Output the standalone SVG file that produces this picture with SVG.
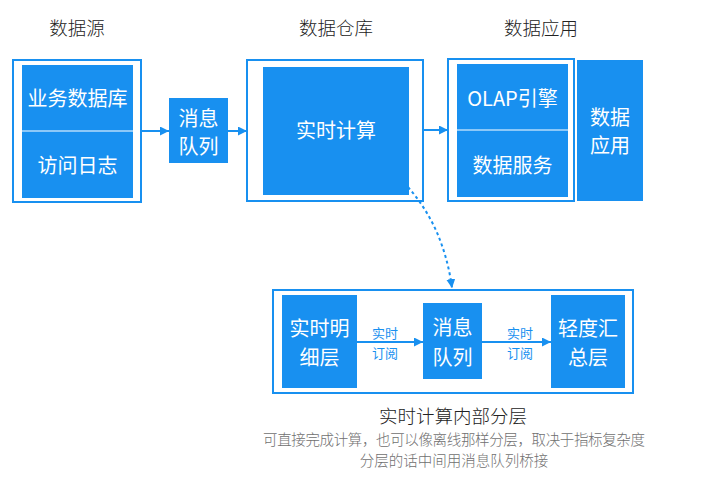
<svg xmlns="http://www.w3.org/2000/svg" width="701" height="486" viewBox="0 0 701 486">
<defs>
<style>
.frame{fill:#fff;stroke:#1890f0;stroke-width:2}
.blk{fill:#1890f0}
.div{stroke:#fff;stroke-width:1.2}
.wt{fill:#fff;font-family:"Noto Sans CJK SC","Noto Sans",sans-serif;font-size:20px;text-anchor:middle;dominant-baseline:central}
.title{fill:#222;font-family:"Noto Sans CJK SC",sans-serif;font-size:18.5px;font-weight:300;text-anchor:middle;dominant-baseline:central}
.lbl{fill:#1890f0;font-family:"Noto Sans CJK SC",sans-serif;font-size:13px;text-anchor:middle;dominant-baseline:central}
.note{fill:#707070;font-family:"Noto Sans CJK SC",sans-serif;font-size:14.5px;font-weight:300;text-anchor:middle;dominant-baseline:central}
.conn{stroke:#1890f0;stroke-width:2;fill:none}
</style>
<marker id="ah" viewBox="0 0 10 10" refX="10" refY="5" markerWidth="9" markerHeight="9" markerUnits="userSpaceOnUse" orient="auto">
<path d="M0,0 L10,5 L0,10 z" fill="#1890f0"/>
</marker>
</defs>
<rect width="701" height="486" fill="#fff"/>

<g id="titles">
<text class="title" x="77" y="27">数据源</text>
<text class="title" x="336" y="27">数据仓库</text>
<text class="title" x="541" y="27">数据应用</text>
</g>

<g id="source">
<rect class="frame" x="13" y="60" width="128" height="142"/>
<rect class="blk" x="22" y="65" width="111" height="133"/>
<line class="div" x1="22" y1="131" x2="133" y2="131"/>
<text class="wt" x="77.5" y="97">业务数据库</text>
<text class="wt" x="77.5" y="164">访问日志</text>
</g>

<g id="mq1">
<rect class="blk" x="169" y="98" width="59" height="65"/>
<text class="wt" x="198.5" y="117">消息</text>
<text class="wt" x="198.5" y="145">队列</text>
</g>

<g id="warehouse">
<rect class="frame" x="247" y="60" width="176" height="141"/>
<rect class="blk" x="263" y="67" width="146" height="128"/>
<text class="wt" x="336" y="129">实时计算</text>
</g>

<g id="apps">
<rect class="frame" x="448" y="59" width="126" height="142"/>
<rect class="blk" x="457" y="64" width="111" height="133"/>
<line class="div" x1="457" y1="130" x2="568" y2="130"/>
<text class="wt" x="512.5" y="97">OLAP引擎</text>
<text class="wt" x="512.5" y="164">数据服务</text>
</g>

<g id="dataapp">
<rect class="blk" x="577" y="60" width="66" height="141"/>
<text class="wt" x="610" y="116">数据</text>
<text class="wt" x="610" y="144">应用</text>
</g>

<g id="layers">
<rect class="frame" x="273" y="290" width="360" height="103"/>
</g>
<g id="detail">
<rect class="blk" x="282" y="295" width="75" height="93"/>
<text class="wt" x="319.5" y="327">实时明</text>
<text class="wt" x="319.5" y="356">细层</text>
</g>
<g id="mq2">
<rect class="blk" x="423" y="303" width="59" height="76"/>
<text class="wt" x="452.5" y="326">消息</text>
<text class="wt" x="452.5" y="356">队列</text>
</g>
<g id="summary">
<rect class="blk" x="551" y="295" width="74" height="93"/>
<text class="wt" x="588" y="327">轻度汇</text>
<text class="wt" x="588" y="356">总层</text>
</g>

<g id="connectors">
<line class="conn" x1="141" y1="131" x2="169" y2="131" marker-end="url(#ah)"/>
<line class="conn" x1="228" y1="131" x2="247" y2="131" marker-end="url(#ah)"/>
<line class="conn" x1="423" y1="130" x2="448" y2="130" marker-end="url(#ah)"/>
<path class="conn" d="M408,187 Q444,228 452,288" stroke-dasharray="3,3" marker-end="url(#ah)"/>
<line class="conn" x1="357" y1="342" x2="423" y2="342" marker-end="url(#ah)"/>
<line class="conn" x1="482" y1="342" x2="551" y2="342" marker-end="url(#ah)"/>
<text class="lbl" x="385" y="332">实时</text>
<text class="lbl" x="385" y="352">订阅</text>
<text class="lbl" x="520" y="332">实时</text>
<text class="lbl" x="520" y="352">订阅</text>
</g>

<g id="caption">
<text class="title" x="453" y="415">实时计算内部分层</text>
<text class="note" x="454" y="438" textLength="382" lengthAdjust="spacing">可直接完成计算，也可以像离线那样分层，取决于指标复杂度</text>
<text class="note" x="454" y="459">分层的话中间用消息队列桥接</text>
</g>
</svg>
